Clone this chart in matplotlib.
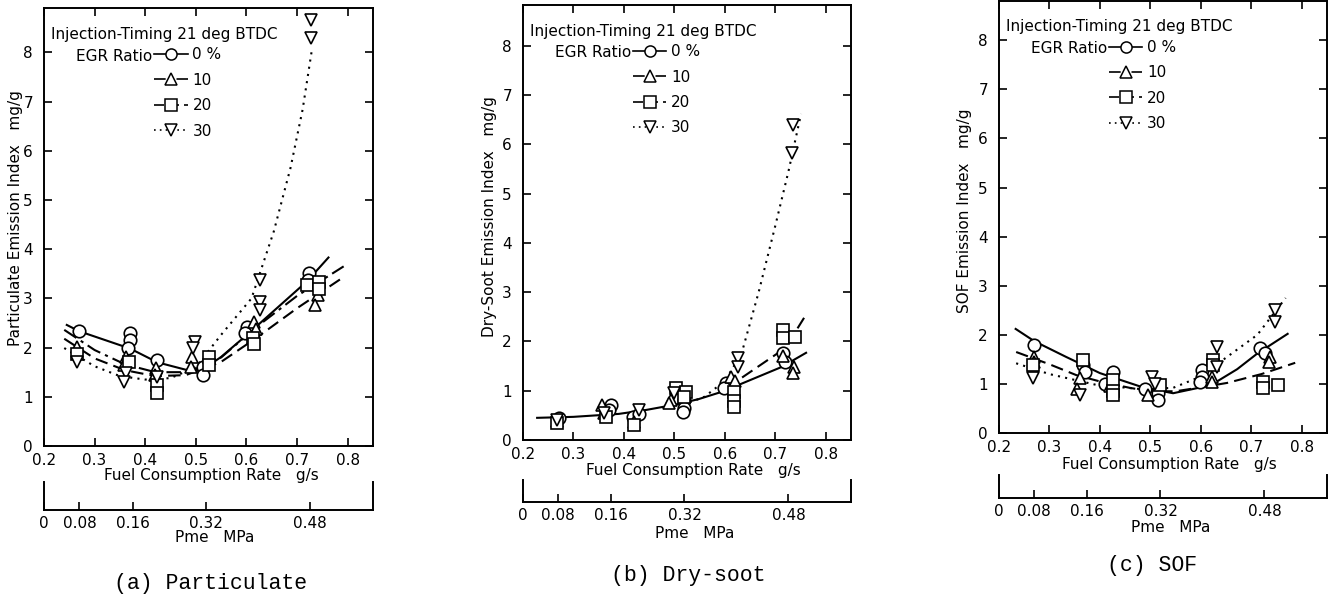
import numpy as np
import matplotlib
matplotlib.use("Agg")
import matplotlib.pyplot as plt
from matplotlib.lines import Line2D

W, H = 1336, 601

# EGR ratio series: label, marker, line style of the fitted curve
egr_labels = ["0 %", "10", "20", "30"]
egr_markers = ["o", "^", "s", "v"]
egr_styles = ["-", (0, (7, 2.5, 1.5, 2.5)), (0, (6, 3)), (0, (1, 2.5))]

# Pme scale under each panel (MPa) and the fuel rate it sits at (g/s)
pme_ticks = [0.08, 0.16, 0.32, 0.48]
pme_at_fuel = [0.27, 0.375, 0.52, 0.726]

# ---- (a) Particulate: measured points
pa_x0 = [0.27, 0.37, 0.37, 0.365, 0.424, 0.515, 0.515, 0.602, 0.598, 0.723, 0.721]
pa_y0 = [2.33, 2.30, 2.16, 2.00, 1.75, 1.60, 1.45, 2.42, 2.30, 3.52, 3.38]
pa_x10 = [0.265, 0.362, 0.358, 0.422, 0.42, 0.492, 0.49, 0.614, 0.618, 0.742, 0.735]
pa_y10 = [2.02, 1.81, 1.65, 1.59, 1.45, 1.80, 1.60, 2.52, 2.38, 3.07, 2.87]
pa_x20 = [0.265, 0.368, 0.423, 0.423, 0.525, 0.525, 0.612, 0.614, 0.719, 0.743, 0.743]
pa_y20 = [1.87, 1.70, 1.24, 1.08, 1.80, 1.65, 2.20, 2.08, 3.28, 3.34, 3.20]
pa_x30 = [0.265, 0.362, 0.358, 0.423, 0.499, 0.495, 0.626, 0.626, 0.626, 0.727, 0.727]
pa_y30 = [1.70, 1.49, 1.30, 1.41, 2.12, 2.00, 3.38, 2.93, 2.77, 8.66, 8.29]
# (a) fitted curves
pa_cx0 = [0.245, 0.27, 0.37, 0.424, 0.48, 0.52, 0.55, 0.60, 0.66, 0.72, 0.762]
pa_cy0 = [2.46, 2.33, 1.98, 1.70, 1.55, 1.60, 1.81, 2.25, 2.80, 3.35, 3.83]
pa_cx10 = [0.24, 0.30, 0.36, 0.42, 0.47, 0.50, 0.55, 0.62, 0.70, 0.792]
pa_cy10 = [2.36, 1.95, 1.66, 1.50, 1.50, 1.56, 1.80, 2.42, 3.05, 3.65]
pa_cx20 = [0.24, 0.30, 0.36, 0.42, 0.48, 0.55, 0.62, 0.70, 0.79]
pa_cy20 = [2.18, 1.78, 1.54, 1.42, 1.44, 1.71, 2.20, 2.80, 3.42]
pa_cx30 = [0.24, 0.30, 0.35, 0.40, 0.45, 0.50, 0.55, 0.61, 0.654, 0.687, 0.711, 0.73]
pa_cy30 = [1.99, 1.62, 1.42, 1.35, 1.38, 1.60, 2.26, 3.00, 4.36, 5.65, 6.84, 8.10]

# ---- (b) Dry-soot: measured points
pb_x0 = [0.271, 0.375, 0.37, 0.417, 0.43, 0.519, 0.52, 0.518, 0.602, 0.598, 0.716, 0.72]
pb_y0 = [0.45, 0.71, 0.61, 0.47, 0.52, 0.82, 0.65, 0.57, 1.15, 1.05, 1.77, 1.59]
pb_x10 = [0.268, 0.357, 0.36, 0.42, 0.493, 0.49, 0.613, 0.62, 0.737, 0.735, 0.716]
pb_y10 = [0.38, 0.71, 0.55, 0.37, 0.82, 0.75, 1.28, 1.20, 1.49, 1.35, 1.70]
pb_x20 = [0.268, 0.365, 0.42, 0.503, 0.523, 0.52, 0.619, 0.619, 0.619, 0.716, 0.716, 0.739]
pb_y20 = [0.35, 0.47, 0.30, 1.05, 0.97, 0.88, 0.98, 0.80, 0.67, 2.23, 2.07, 2.10]
pb_x30 = [0.268, 0.36, 0.43, 0.50, 0.626, 0.626, 0.733, 0.735]
pb_y30 = [0.40, 0.55, 0.61, 0.95, 1.66, 1.49, 5.82, 6.40]
# (b) fitted curves
pb_cx0 = [0.228, 0.30, 0.39, 0.444, 0.503, 0.548, 0.607, 0.623, 0.712, 0.761]
pb_cy0 = [0.45, 0.47, 0.53, 0.61, 0.72, 0.83, 1.02, 1.10, 1.48, 1.77]
pb_cx20 = [0.60, 0.633, 0.706, 0.74, 0.757]
pb_cy20 = [1.12, 1.26, 1.77, 2.20, 2.48]
pb_cx30 = [0.53, 0.56, 0.60, 0.633, 0.667, 0.70, 0.726, 0.751]
pb_cy30 = [0.76, 0.88, 1.20, 1.75, 3.00, 4.35, 5.45, 6.62]

# ---- (c) SOF: measured points
pc_x0 = [0.27, 0.367, 0.37, 0.425, 0.41, 0.516, 0.516, 0.49, 0.602, 0.602, 0.598, 0.718, 0.728]
pc_y0 = [1.79, 1.38, 1.25, 1.25, 1.00, 0.81, 0.67, 0.90, 1.28, 1.15, 1.04, 1.73, 1.63]
pc_x10 = [0.27, 0.27, 0.36, 0.355, 0.42, 0.495, 0.623, 0.623, 0.738, 0.735]
pc_y10 = [1.55, 1.45, 1.12, 0.90, 0.95, 0.77, 1.14, 1.04, 1.55, 1.45]
pc_x20 = [0.268, 0.367, 0.425, 0.425, 0.425, 0.52, 0.625, 0.625, 0.724, 0.724, 0.752]
pc_y20 = [1.38, 1.49, 1.08, 0.86, 0.78, 0.98, 1.49, 1.38, 1.04, 0.92, 0.98]
pc_x30 = [0.268, 0.36, 0.503, 0.51, 0.632, 0.632, 0.746, 0.746]
pc_y30 = [1.12, 0.77, 1.14, 1.00, 1.75, 1.34, 2.50, 2.26]
# (c) fitted curves
pc_cx0 = [0.233, 0.27, 0.333, 0.40, 0.485, 0.545, 0.60, 0.632, 0.672, 0.712, 0.772]
pc_cy0 = [2.12, 1.87, 1.55, 1.22, 0.93, 0.81, 0.93, 1.05, 1.30, 1.62, 2.02]
pc_cx20 = [0.234, 0.30, 0.353, 0.40, 0.459, 0.50, 0.55, 0.60, 0.652, 0.72, 0.787]
pc_cy20 = [1.65, 1.40, 1.18, 1.05, 0.92, 0.85, 0.85, 0.93, 1.02, 1.20, 1.43]
pc_cx30 = [0.234, 0.30, 0.393, 0.485, 0.545, 0.60, 0.644, 0.712, 0.768]
pc_cy30 = [1.42, 1.20, 0.98, 0.89, 0.92, 1.15, 1.49, 2.00, 2.75]

plt.rcParams['font.family'] = ['DejaVu Sans']


def px_box(l, t, r, b):
    return [l / W, 1 - b / H, (r - l) / W, (b - t) / H]


panels = [
    dict(box=(44, 8, 373, 446), pme_box=(44, 482, 373, 510), ytop=8.9,
         ylabel="Particulate Emission Index   mg/g", ylab=(-0.064, 0.52), xlab=(0.51, -0.05),
         title="(a) Particulate", title_xy=(211, 583), pme_xy=(215, 538),
         pts=[(pa_x0, pa_y0), (pa_x10, pa_y10), (pa_x20, pa_y20), (pa_x30, pa_y30)],
         curves={0: (pa_cx0, pa_cy0), 1: (pa_cx10, pa_cy10), 2: (pa_cx20, pa_cy20), 3: (pa_cx30, pa_cy30)}),
    dict(box=(523, 5, 851, 440), pme_box=(523, 480, 851, 502), ytop=8.83,
         ylabel="Dry-Soot Emission Index   mg/g", ylab=(-0.079, 0.513), xlab=(0.518, -0.053),
         title="(b) Dry-soot", title_xy=(688, 575), pme_xy=(695, 533),
         pts=[(pb_x0, pb_y0), (pb_x10, pb_y10), (pb_x20, pb_y20), (pb_x30, pb_y30)],
         curves={0: (pb_cx0, pb_cy0), 2: (pb_cx20, pb_cy20), 3: (pb_cx30, pb_cy30)}),
    dict(box=(999, 1, 1327, 433), pme_box=(999, 475, 1327, 498), ytop=8.8,
         ylabel="SOF Emission Index   mg/g", ylab=(-0.082, 0.514), xlab=(0.518, -0.056),
         title="(c) SOF", title_xy=(1152, 565), pme_xy=(1171, 527),
         pts=[(pc_x0, pc_y0), (pc_x10, pc_y10), (pc_x20, pc_y20), (pc_x30, pc_y30)],
         curves={0: (pc_cx0, pc_cy0), 2: (pc_cx20, pc_cy20), 3: (pc_cx30, pc_cy30)}),
]

fig = plt.figure(figsize=(W / 100, H / 100), dpi=100)

for p in panels:
    ax = fig.add_axes(px_box(*p['box']))
    for i, (cx, cy) in p['curves'].items():
        ax.plot(cx, cy, color='k', lw=1.5, ls=egr_styles[i], zorder=2)
    for i, (x, y) in enumerate(p['pts']):
        ax.plot(x, y, ls='none', marker=egr_markers[i], ms=8 if i == 2 else 9,
                mfc='white', mec='k', mew=1.2, zorder=3)
    ax.set_xlim(0.2, 0.85)
    ax.set_ylim(0, p['ytop'])
    xt = np.round(np.arange(0.2, 0.81, 0.1), 1)
    ax.set_xticks(xt)
    ax.set_xticklabels([f"{v:.1f}" for v in xt])
    ax.set_yticks(range(9))
    ax.tick_params(direction='in', top=True, right=True, length=5.5, width=1.2, labelsize=11)
    ax.tick_params(axis='x', pad=5)
    ax.tick_params(axis='y', pad=8)
    for s in ax.spines.values():
        s.set_linewidth(1.4)
    ax.set_ylabel(p['ylabel'], fontsize=11)
    ax.yaxis.set_label_coords(*p['ylab'])
    ax.set_xlabel("Fuel Consumption Rate   g/s", fontsize=11)
    ax.xaxis.set_label_coords(*p['xlab'])

    # legend block
    ax.text(0.02, 0.94, "Injection-Timing 21 deg BTDC", transform=ax.transAxes,
            fontsize=11, va='center', ha='left')
    ax.text(0.33, 0.89, "EGR Ratio", transform=ax.transAxes,
            fontsize=11, va='center', ha='right')
    handles = [Line2D([], [], color='k', lw=1.2, ls=egr_styles[i], marker=egr_markers[i],
                      ms=8, mfc='white', mec='k', mew=1.1) for i in range(4)]
    ax.legend(handles, egr_labels, loc='upper left', bbox_to_anchor=(0.335, 0.91),
              frameon=False, fontsize=11, handlelength=2.2, handletextpad=0.3,
              labelspacing=0.68, borderpad=0, borderaxespad=0, numpoints=1)

    # Pme scale bracket
    ax2 = fig.add_axes(px_box(*p['pme_box']))
    ax2.set_xlim(0.2, 0.85)
    ax2.set_ylim(0, 1)
    ax2.spines['top'].set_visible(False)
    for s in ['left', 'right', 'bottom']:
        ax2.spines[s].set_linewidth(1.4)
    ax2.set_yticks([])
    ax2.set_xticks([0.2] + pme_at_fuel)
    ax2.set_xticklabels(["0"] + [f"{v:.2f}" for v in pme_ticks])
    ax2.tick_params(axis='x', direction='in', length=6, width=1.2, labelsize=11, pad=4)
    ax2.patch.set_alpha(0)

    fig.text(p['pme_xy'][0] / W, 1 - p['pme_xy'][1] / H, "Pme   MPa",
             fontsize=11, ha='center', va='center')
    fig.text(p['title_xy'][0] / W, 1 - p['title_xy'][1] / H, p['title'],
             fontsize=15.5, family='Liberation Mono', ha='center', va='center')

fig.savefig("out.png", dpi=100)
